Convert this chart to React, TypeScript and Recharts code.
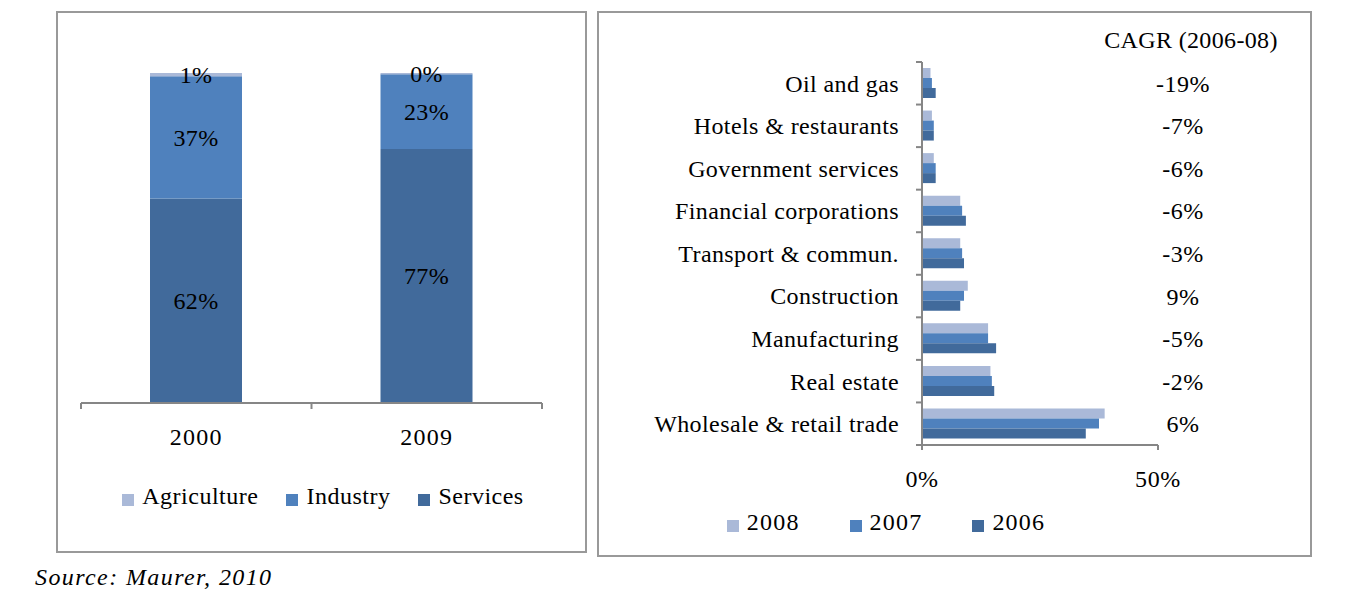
import React from "react";
import { BarChart, Bar, XAxis, YAxis, Legend, LabelList } from "recharts";

// left panel: sector share of GDP
const years = ["2000", "2009"];
const agriculture = [1, 0.4];
const industry = [37, 22.6];
const services = [62, 77];

// right panel: sector size by year, with CAGR
const sectors = [
  "Oil and gas",
  "Hotels & restaurants",
  "Government services",
  "Financial corporations",
  "Transport & commun.",
  "Construction",
  "Manufacturing",
  "Real estate",
  "Wholesale & retail trade",
];
const v2008 = [1.8, 2.1, 2.5, 8.1, 8.1, 9.7, 14.0, 14.5, 38.7];
const v2007 = [2.1, 2.5, 2.9, 8.5, 8.5, 8.9, 14.0, 14.8, 37.5];
const v2006 = [2.9, 2.5, 2.9, 9.3, 8.9, 8.1, 15.7, 15.3, 34.7];
const cagr = ["-19%", "-7%", "-6%", "-6%", "-3%", "9%", "-5%", "-2%", "6%"];

const LIGHT = "#aab9d8";
const MID = "#4f81bd";
const DARK = "#416a9b";
const AXIS = "#868686";
const FONT = "'Liberation Serif', 'Times New Roman', serif";
const FS = 24;

// plot heights, used to put the category ticks between bands
const RIGHT_H = 546;
const RIGHT_MARGIN = { top: 51, right: 74, left: 35, bottom: 35 };
const RIGHT_PLOT_H = RIGHT_H - RIGHT_MARGIN.top - RIGHT_MARGIN.bottom - 50 - 27;

const shareData = years.map((year, i) => ({
  year,
  Agriculture: agriculture[i],
  Industry: industry[i],
  Services: services[i],
}));

const sectorData = sectors.map((name, i) => ({
  name,
  "2008": v2008[i],
  "2007": v2007[i],
  "2006": v2006[i],
}));

const legendText = (gap: number, spacing: number) => (value: string) => (
  <span style={{ color: "#000", fontSize: FS, letterSpacing: spacing, marginLeft: 4, marginRight: gap }}>{value}</span>
);

const pct = (v: any) => `${Math.round(Number(v))}%`;

function YearTick(props: any) {
  const { x, y, payload, index, width, visibleTicksCount } = props;
  const band = width / visibleTicksCount;
  const axisY = y - 25;
  return (
    <g>
      <text x={x} y={y} dy="0.71em" textAnchor="middle" fontSize={FS} fill="#000" letterSpacing={1.2}>
        {payload.value}
      </text>
      {index === 0 && <line x1={x - band / 2} x2={x - band / 2} y1={axisY} y2={axisY + 6} stroke={AXIS} strokeWidth={2} />}
      <line x1={x + band / 2} x2={x + band / 2} y1={axisY} y2={axisY + 6} stroke={AXIS} strokeWidth={2} />
    </g>
  );
}

function SectorTick(props: any) {
  const { x, y, payload, index } = props;
  const n = sectors.length;
  const band = RIGHT_PLOT_H / n;
  const axisX = x + 23;
  return (
    <g>
      <text x={x} y={y} dy="0.35em" textAnchor="end" fontSize={FS} fill="#000" letterSpacing={0.4}>
        {payload.value}
      </text>
      <line x1={axisX - 6} x2={axisX} y1={y - band / 2} y2={y - band / 2} stroke={AXIS} strokeWidth={2} />
      {index === n - 1 && (
        <line x1={axisX - 6} x2={axisX} y1={y + band / 2} y2={y + band / 2} stroke={AXIS} strokeWidth={2} />
      )}
    </g>
  );
}

export default function App() {
  return (
    <div
      style={{
        position: "absolute",
        left: 0,
        top: 0,
        width: 1356,
        height: 592,
        background: "#fff",
        fontFamily: FONT,
        overflow: "hidden",
      }}
    >
      <div style={{ position: "absolute", left: 56, top: 11, width: 531, height: 542, boxSizing: "border-box", border: "2px solid #999" }} />
      <div style={{ position: "absolute", left: 597, top: 11, width: 715, height: 546, boxSizing: "border-box", border: "2px solid #999" }} />

      <div style={{ position: "absolute", left: 56, top: 11 }}>
        <BarChart width={531} height={542} data={shareData} margin={{ top: 62, right: 45, left: 25, bottom: 83 }} barSize={92}>
          <XAxis
            dataKey="year"
            stroke={AXIS}
            strokeWidth={2}
            tickLine={false}
            tickSize={0}
            tickMargin={25}
            height={40}
            interval={0}
            tick={<YearTick />}
          />
          <YAxis hide domain={[0, 100]} allowDataOverflow />
          <Legend iconSize={12} formatter={legendText(18, 0.5)} wrapperStyle={{ top: 472, left: 0, width: 562 }} />
          <Bar dataKey="Services" stackId="a" fill={DARK} legendType="square" isAnimationActive={false}>
            <LabelList dataKey="Services" position="center" formatter={pct} style={{ fontSize: FS, fill: "#000", letterSpacing: 0.3 }} />
          </Bar>
          <Bar dataKey="Industry" stackId="a" fill={MID} legendType="square" isAnimationActive={false}>
            <LabelList dataKey="Industry" position="center" formatter={pct} style={{ fontSize: FS, fill: "#000", letterSpacing: 0.3 }} />
          </Bar>
          <Bar dataKey="Agriculture" stackId="a" fill={LIGHT} legendType="square" isAnimationActive={false}>
            <LabelList dataKey="Agriculture" position="center" formatter={pct} style={{ fontSize: FS, fill: "#000", letterSpacing: 0.3 }} />
          </Bar>
        </BarChart>
      </div>

      <div style={{ position: "absolute", left: 597, top: 11 }}>
        <BarChart width={715} height={RIGHT_H} data={sectorData} layout="vertical" margin={RIGHT_MARGIN} barSize={10} barGap={0}>
          <XAxis
            type="number"
            domain={[0, 50]}
            ticks={[0, 50]}
            allowDataOverflow
            tickFormatter={(v) => `${v}%`}
            tickSize={5}
            tickMargin={20}
            height={50}
            tick={{ fontSize: FS, fill: "#000", letterSpacing: 0.6 }}
            stroke={AXIS}
            strokeWidth={2}
          />
          <YAxis
            type="category"
            dataKey="name"
            width={290}
            stroke={AXIS}
            strokeWidth={2}
            tickLine={false}
            tickSize={0}
            tickMargin={23}
            interval={0}
            tick={<SectorTick />}
          />
          <YAxis
            yAxisId="cagr"
            type="category"
            dataKey="name"
            orientation="right"
            width={80}
            axisLine={false}
            tickLine={false}
            tickSize={0}
            tickMargin={25}
            interval={0}
            tickFormatter={(_v: any, i: number) => cagr[i]}
            tick={{ fontSize: FS, fill: "#000", letterSpacing: 0.5, textAnchor: "middle" }}
          />
          <Legend
            iconSize={12}
            formatter={legendText(40, 1.2)}
            itemSorter={(item: any) => -Number(item.value)}
            wrapperStyle={{ top: 498, left: 0, width: 628 }}
          />
          <Bar dataKey="2008" fill={LIGHT} legendType="square" isAnimationActive={false} />
          <Bar dataKey="2007" fill={MID} legendType="square" isAnimationActive={false} />
          <Bar dataKey="2006" fill={DARK} legendType="square" isAnimationActive={false} />
        </BarChart>
      </div>

      <div
        style={{
          position: "absolute",
          left: 1191,
          top: 40,
          transform: "translate(-50%, -50%)",
          fontSize: FS,
          letterSpacing: 0.35,
          whiteSpace: "nowrap",
          color: "#000",
        }}
      >
        CAGR (2006-08)
      </div>

      <div
        style={{
          position: "absolute",
          left: 35,
          top: 577,
          transform: "translateY(-50%)",
          fontSize: FS,
          fontStyle: "italic",
          letterSpacing: 1.4,
          whiteSpace: "nowrap",
          color: "#000",
        }}
      >
        Source: Maurer, 2010
      </div>
    </div>
  );
}
